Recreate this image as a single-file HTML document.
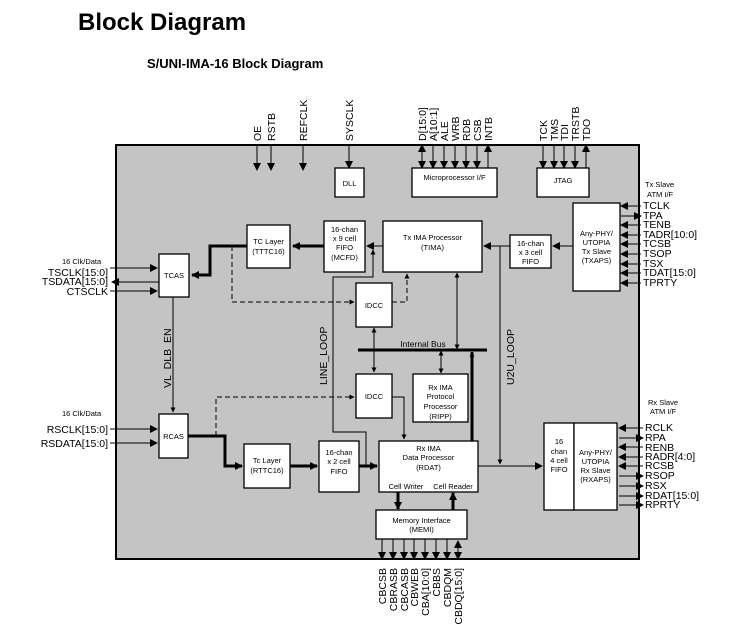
<!DOCTYPE html>
<html><head><meta charset="utf-8"><style>
html,body{margin:0;padding:0;background:#fff}
svg{display:block}
text{font-family:"Liberation Sans",Arial,sans-serif;fill:#000}
.b{fill:#fff;stroke:#000;stroke-width:1.3}
.s{font-size:7.5px}
.p{font-size:10.5px}
.l{stroke:#000;stroke-width:1;fill:none}
.t{stroke:#000;stroke-width:3;fill:none}
.d{stroke:#000;stroke-width:1;fill:none;stroke-dasharray:5,3}
</style></head><body>
<svg width="740" height="638" viewBox="0 0 740 638" xmlns="http://www.w3.org/2000/svg">
<defs>
<marker id="a" markerWidth="8" markerHeight="8" refX="7" refY="4" orient="auto" markerUnits="userSpaceOnUse"><path d="M0,0 L8,4 L0,8 z" fill="#000"/></marker>
<marker id="as" markerWidth="8" markerHeight="8" refX="1" refY="4" orient="auto" markerUnits="userSpaceOnUse"><path d="M8,0 L0,4 L8,8 z" fill="#000"/></marker>
<marker id="sm" markerWidth="5" markerHeight="5" refX="4.5" refY="2.5" orient="auto" markerUnits="userSpaceOnUse"><path d="M0,0 L5,2.5 L0,5 z" fill="#000"/></marker>
<marker id="sms" markerWidth="5" markerHeight="5" refX="0.5" refY="2.5" orient="auto" markerUnits="userSpaceOnUse"><path d="M5,0 L0,2.5 L5,5 z" fill="#000"/></marker>
</defs>
<text x="78" y="30" style="font-size:24px;font-weight:bold">Block Diagram</text>
<text x="147" y="68" style="font-size:13px;font-weight:bold">S/UNI-IMA-16 Block Diagram</text>

<rect x="116" y="145" width="523" height="414" fill="#c4c4c4" stroke="#000" stroke-width="2"/>

<!-- top pins -->
<g class="l" stroke-width="2">
<line x1="257" y1="145" x2="257" y2="170" marker-end="url(#a)"/>
<line x1="271" y1="145" x2="271" y2="170" marker-end="url(#a)"/>
<line x1="303" y1="145" x2="303" y2="170" marker-end="url(#a)"/>
<line x1="349" y1="145" x2="349" y2="168" marker-end="url(#a)"/>
<line x1="422" y1="145" x2="422" y2="168" marker-end="url(#a)" marker-start="url(#as)"/>
<line x1="433" y1="145" x2="433" y2="168" marker-end="url(#a)"/>
<line x1="444" y1="145" x2="444" y2="168" marker-end="url(#a)"/>
<line x1="455" y1="145" x2="455" y2="168" marker-end="url(#a)"/>
<line x1="466" y1="145" x2="466" y2="168" marker-end="url(#a)"/>
<line x1="477" y1="145" x2="477" y2="168" marker-end="url(#a)"/>
<line x1="488" y1="168" x2="488" y2="145" marker-end="url(#a)"/>
<line x1="543" y1="145" x2="543" y2="168" marker-end="url(#a)"/>
<line x1="554" y1="145" x2="554" y2="168" marker-end="url(#a)"/>
<line x1="564" y1="145" x2="564" y2="168" marker-end="url(#a)"/>
<line x1="575" y1="145" x2="575" y2="168" marker-end="url(#a)"/>
<line x1="586" y1="168" x2="586" y2="145" marker-end="url(#a)"/>
</g>
<g class="p">
<text transform="translate(261,141) rotate(-90)">OE</text>
<text transform="translate(275,141) rotate(-90)">RSTB</text>
<text transform="translate(307,141) rotate(-90)">REFCLK</text>
<text transform="translate(353,141) rotate(-90)">SYSCLK</text>
<text transform="translate(426,141) rotate(-90)">D[15:0]</text>
<text transform="translate(437,141) rotate(-90)">A[10:1]</text>
<text transform="translate(448,141) rotate(-90)">ALE</text>
<text transform="translate(459,141) rotate(-90)">WRB</text>
<text transform="translate(470,141) rotate(-90)">RDB</text>
<text transform="translate(481,141) rotate(-90)">CSB</text>
<text transform="translate(492,141) rotate(-90)">INTB</text>
<text transform="translate(547,141) rotate(-90)">TCK</text>
<text transform="translate(558,141) rotate(-90)">TMS</text>
<text transform="translate(568,141) rotate(-90)">TDI</text>
<text transform="translate(579,141) rotate(-90)">TRSTB</text>
<text transform="translate(590,141) rotate(-90)">TDO</text>
</g>

<!-- blocks -->
<rect class="b" x="335" y="168" width="29" height="29"/><text class="s" x="349.5" y="186" text-anchor="middle">DLL</text>
<rect class="b" x="412" y="168" width="85" height="29"/><text class="s" x="454.5" y="180" text-anchor="middle">Microprocessor I/F</text>
<rect class="b" x="537" y="168" width="52" height="29"/><text class="s" x="563" y="183" text-anchor="middle">JTAG</text>
<rect class="b" x="247" y="225" width="43" height="43"/><text class="s" x="268.5" y="244" text-anchor="middle">TC Layer</text><text class="s" x="268.5" y="254" text-anchor="middle">(TTTC16)</text>
<rect class="b" x="324" y="221" width="41" height="51"/><g class="s" text-anchor="middle"><text x="344.5" y="232">16-chan</text><text x="344.5" y="241">x 9 cell</text><text x="344.5" y="250">FIFO</text><text x="344.5" y="260">(MCFD)</text></g>
<rect class="b" x="383" y="221" width="99" height="51"/><g class="s" text-anchor="middle"><text x="432.5" y="240">Tx IMA Processor</text><text x="432.5" y="250">(TIMA)</text></g>
<rect class="b" x="510" y="235" width="41" height="33"/><g class="s" text-anchor="middle"><text x="530.5" y="246">16-chan</text><text x="530.5" y="255">x 3 cell</text><text x="530.5" y="264">FIFO</text></g>
<rect class="b" x="573" y="203" width="47" height="88"/><g class="s" text-anchor="middle"><text x="596.5" y="236">Any-PHY/</text><text x="596.5" y="245">UTOPIA</text><text x="596.5" y="254">Tx Slave</text><text x="596.5" y="263">(TXAPS)</text></g>
<rect class="b" x="159" y="254" width="30" height="43"/><text class="s" x="174" y="278" text-anchor="middle">TCAS</text>
<rect class="b" x="356" y="283" width="36" height="44"/><text class="s" x="374" y="308" text-anchor="middle">IDCC</text>
<rect class="b" x="356" y="374" width="36" height="44"/><text class="s" x="374" y="399" text-anchor="middle">IDCC</text>
<rect class="b" x="413" y="374" width="55" height="48"/><g class="s" text-anchor="middle"><text x="440.5" y="390">Rx IMA</text><text x="440.5" y="399">Protocol</text><text x="440.5" y="409">Processor</text><text x="440.5" y="419">(RIPP)</text></g>
<rect class="b" x="159" y="414" width="29" height="44"/><text class="s" x="173.5" y="439" text-anchor="middle">RCAS</text>
<rect class="b" x="244" y="444" width="46" height="44"/><text class="s" x="267" y="463" text-anchor="middle">Tc Layer</text><text class="s" x="267" y="473" text-anchor="middle">(RTTC16)</text>
<rect class="b" x="319" y="441" width="40" height="51"/><g class="s" text-anchor="middle"><text x="339" y="455">16-chan</text><text x="339" y="464">x 2 cell</text><text x="339" y="474">FIFO</text></g>
<rect class="b" x="379" y="441" width="99" height="51"/><g class="s" text-anchor="middle"><text x="428.5" y="451">Rx IMA</text><text x="428.5" y="460">Data Processor</text><text x="428.5" y="470">(RDAT)</text><text x="406" y="489">Cell Writer</text><text x="453" y="489">Cell Reader</text></g>
<rect class="b" x="376" y="510" width="91" height="29"/><g class="s" text-anchor="middle"><text x="421.5" y="523">Memory Interface</text><text x="421.5" y="532">(MEMI)</text></g>
<rect class="b" x="544" y="423" width="30" height="87"/><rect class="b" x="574" y="423" width="43" height="87"/>
<g class="s" text-anchor="middle"><text x="559" y="444">16</text><text x="559" y="454">chan</text><text x="559" y="463">4 cell</text><text x="559" y="472">FIFO</text>
<text x="595.5" y="455">Any-PHY/</text><text x="595.5" y="464">UTOPIA</text><text x="595.5" y="473">Rx Slave</text><text x="595.5" y="482">(RXAPS)</text></g>

<!-- internal bus -->
<line x1="358" y1="350" x2="487" y2="350" stroke="#000" stroke-width="3"/>
<text class="s" x="423" y="347" text-anchor="middle" style="font-size:8.5px">Internal Bus</text>
<line class="l" x1="374" y1="328" x2="374" y2="372" marker-start="url(#sms)" marker-end="url(#sm)"/>
<line class="l" x1="441" y1="351" x2="441" y2="373" marker-start="url(#sms)" marker-end="url(#sm)"/>
<line class="l" x1="457" y1="273" x2="457" y2="349" marker-start="url(#sms)" marker-end="url(#sm)"/>
<line class="t" x1="472" y1="441" x2="472" y2="352" marker-end="url(#sm)"/>

<!-- Tx path -->
<line class="l" x1="383" y1="246" x2="367" y2="246" marker-end="url(#a)" stroke-width="1.5"/>
<line class="t" x1="324" y1="246" x2="293" y2="246" marker-end="url(#a)"/>
<polyline class="t" points="247,246 210,246 210,275 192,275" marker-end="url(#a)"/>
<polyline class="d" points="232,246 232,302 354,302" marker-end="url(#sm)"/>
<polyline class="d" points="392,302 407,302 407,274" marker-end="url(#sm)"/>
<line class="l" x1="573" y1="246" x2="553" y2="246" marker-end="url(#a)" stroke-width="1.5"/>
<line class="l" x1="510" y1="246" x2="484" y2="246" marker-end="url(#a)" stroke-width="1.5"/>
<!-- loops -->
<polyline class="l" points="366,466 366,432 333,432 333,277 373,277 373,250" marker-end="url(#sm)"/>
<text class="p" transform="translate(327,385) rotate(-90)">LINE_LOOP</text>
<polyline class="l" points="500,246 500,464" marker-end="url(#sm)"/>
<text class="p" transform="translate(514,385) rotate(-90)">U2U_LOOP</text>
<line class="l" x1="173" y1="297" x2="173" y2="412" marker-end="url(#sm)"/>
<text class="p" transform="translate(171,388) rotate(-90)">VL_DLB_EN</text>

<!-- Rx path -->
<polyline class="t" points="188,436 225,436 225,466 242,466" marker-end="url(#a)"/>
<polyline class="d" points="216,436 216,397 354,397" marker-end="url(#sm)" stroke-dasharray="6,2,2,2"/>
<polyline class="l" points="392,397 404,397 404,439" marker-end="url(#sm)"/>
<line class="t" x1="290" y1="466" x2="317" y2="466" marker-end="url(#a)"/>
<line class="t" x1="359" y1="466" x2="377" y2="466" marker-end="url(#a)"/>
<line class="l" x1="478" y1="466" x2="542" y2="466" stroke-width="2.5" marker-end="url(#a)"/>
<line class="t" x1="398" y1="492" x2="398" y2="509" marker-end="url(#a)"/>
<line class="t" x1="453" y1="510" x2="453" y2="493" marker-end="url(#a)"/>

<!-- left Tx -->
<text class="s" x="62" y="264">16 Clk/Data</text>
<g class="p" text-anchor="end"><text x="108" y="276">TSCLK[15:0]</text><text x="108" y="285">TSDATA[15:0]</text><text x="108" y="295">CTSCLK</text></g>
<line class="l" x1="110" y1="268" x2="157" y2="268" marker-end="url(#a)"/>
<line class="l" x1="159" y1="282" x2="112" y2="282" marker-end="url(#a)"/>
<line class="l" x1="110" y1="291" x2="157" y2="291" marker-end="url(#a)"/>
<!-- left Rx -->
<text class="s" x="62" y="416">16 Clk/Data</text>
<g class="p" text-anchor="end"><text x="108" y="433">RSCLK[15:0]</text><text x="108" y="447">RSDATA[15:0]</text></g>
<line class="l" x1="110" y1="429" x2="157" y2="429" stroke-width="2" marker-end="url(#a)"/>
<line class="l" x1="110" y1="443" x2="157" y2="443" marker-end="url(#a)"/>

<!-- right Tx -->
<text class="s" x="645" y="187">Tx Slave</text><text class="s" x="647" y="197">ATM I/F</text>
<g class="p"><text x="643" y="209">TCLK</text><text x="643" y="219">TPA</text><text x="643" y="228">TENB</text><text x="643" y="238">TADR[10:0]</text><text x="643" y="247">TCSB</text><text x="643" y="257">TSOP</text><text x="643" y="267">TSX</text><text x="643" y="276">TDAT[15:0]</text><text x="643" y="286">TPRTY</text></g>
<g class="l" stroke-width="2">
<line x1="641" y1="206" x2="621" y2="206" marker-end="url(#a)"/>
<line x1="621" y1="216" x2="641" y2="216" marker-end="url(#a)"/>
<line x1="641" y1="225" x2="621" y2="225" marker-end="url(#a)"/>
<line x1="641" y1="235" x2="621" y2="235" marker-end="url(#a)"/>
<line x1="641" y1="244" x2="621" y2="244" marker-end="url(#a)"/>
<line x1="641" y1="254" x2="621" y2="254" marker-end="url(#a)"/>
<line x1="641" y1="264" x2="621" y2="264" marker-end="url(#a)"/>
<line x1="641" y1="273" x2="621" y2="273" marker-end="url(#a)"/>
<line x1="641" y1="283" x2="621" y2="283" marker-end="url(#a)"/>
</g>
<!-- right Rx -->
<text class="s" x="648" y="405">Rx Slave</text><text class="s" x="650" y="414">ATM I/F</text>
<g class="p"><text x="645" y="431">RCLK</text><text x="645" y="441">RPA</text><text x="645" y="451">RENB</text><text x="645" y="460">RADR[4:0]</text><text x="645" y="469">RCSB</text><text x="645" y="479">RSOP</text><text x="645" y="489">RSX</text><text x="645" y="499">RDAT[15:0]</text><text x="645" y="508">RPRTY</text></g>
<g class="l" stroke-width="2">
<line x1="643" y1="428" x2="619" y2="428" marker-end="url(#a)"/>
<line x1="619" y1="438" x2="643" y2="438" marker-end="url(#a)"/>
<line x1="643" y1="447" x2="619" y2="447" marker-end="url(#a)"/>
<line x1="643" y1="457" x2="619" y2="457" marker-end="url(#a)"/>
<line x1="643" y1="466" x2="619" y2="466" marker-end="url(#a)"/>
<line x1="619" y1="476" x2="643" y2="476" marker-end="url(#a)"/>
<line x1="619" y1="486" x2="643" y2="486" marker-end="url(#a)"/>
<line x1="619" y1="496" x2="643" y2="496" marker-end="url(#a)"/>
<line x1="619" y1="505" x2="643" y2="505" marker-end="url(#a)"/>
</g>

<!-- bottom pins -->
<g class="l" stroke-width="2">
<line x1="382" y1="539" x2="382" y2="559" marker-end="url(#a)"/>
<line x1="393" y1="539" x2="393" y2="559" marker-end="url(#a)"/>
<line x1="404" y1="539" x2="404" y2="559" marker-end="url(#a)"/>
<line x1="414" y1="539" x2="414" y2="559" marker-end="url(#a)"/>
<line x1="425" y1="539" x2="425" y2="559" marker-end="url(#a)"/>
<line x1="436" y1="539" x2="436" y2="559" marker-end="url(#a)"/>
<line x1="447" y1="539" x2="447" y2="559" marker-end="url(#a)"/>
<line x1="458" y1="541" x2="458" y2="559" marker-end="url(#a)" marker-start="url(#as)"/>
</g>
<g class="p" text-anchor="end">
<text transform="translate(386,568) rotate(-90)">CBCSB</text>
<text transform="translate(397,568) rotate(-90)">CBRASB</text>
<text transform="translate(408,568) rotate(-90)">CBCASB</text>
<text transform="translate(418,568) rotate(-90)">CBWEB</text>
<text transform="translate(429,568) rotate(-90)">CBA[10:0]</text>
<text transform="translate(440,568) rotate(-90)">CBBS</text>
<text transform="translate(451,568) rotate(-90)">CBDQM</text>
<text transform="translate(462,568) rotate(-90)">CBDQ[15:0]</text>
</g>
</svg>
</body></html>
